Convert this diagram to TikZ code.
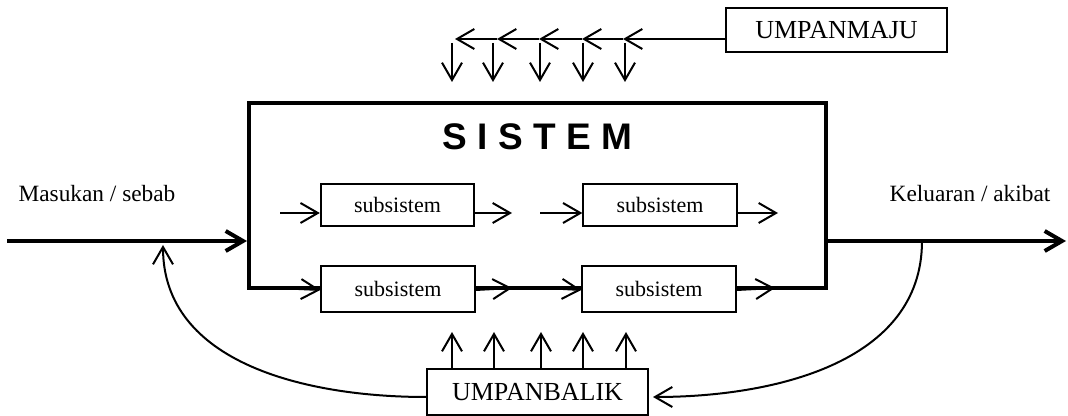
\documentclass[tikz,border=0pt]{standalone}
\usepackage{fontspec}
\setmainfont{Liberation Serif}
\newfontfamily\judulfont{Liberation Sans}
\usetikzlibrary{arrows.meta}

\begin{document}
\begin{tikzpicture}[x=0.75pt,y=-0.75pt,>={Straight Barb[length=13pt,width=15pt]},
	garis/.style={line width=1.5pt},
	tebal/.style={line width=3pt},
	kotak/.style={draw,line width=1.5pt,fill=white,inner sep=0pt},
	subkotak/.style={kotak,minimum width=115pt,font=\fontsize{16.5}{18}\selectfont},
	besar/.style={kotak,minimum width=165.75pt,font=\fontsize{19.5}{22}\selectfont},
	teks/.style={anchor=base,font=\fontsize{17.5}{20}\selectfont}]
	\useasboundingbox (0,0) rectangle (1068,416);
	% Kotak sistem
	\node[draw,tebal,inner sep=0pt,minimum width=432.75pt,minimum height=138.75pt] (sistem) at (537.5,195.5) {};
	\node[font=\judulfont\bfseries\fontsize{27.75}{30}\selectfont] (judul) at (537.5,136.5) {S I S T E M};
	\node[subkotak,minimum height=31.5pt] (s1) at (397.5,205) {subsistem};
	\node[subkotak,minimum height=31.5pt] (s2) at (660,205) {subsistem};
	\node[subkotak,minimum height=34.5pt] (s3) at (398,289) {subsistem};
	\node[subkotak,minimum height=34.5pt] (s4) at (659,289) {subsistem};
	% Panah antar subsistem
	\coordinate (a1) at (280,213);
	\coordinate (a2) at (512,213);
	\coordinate (a3) at (540,213);
	\coordinate (a4) at (778,213);
	\draw[garis,->] (a1) -- ([yshift=-6pt]s1.west);
	\draw[garis,->] ([yshift=-6pt]s1.east) -- (a2);
	\draw[garis,->] (a3) -- ([yshift=-6pt]s2.west);
	\draw[garis,->] ([yshift=-6pt]s2.east) -- (a4);
	\coordinate (b1) at (277,288);
	\coordinate (b2) at (512,288);
	\coordinate (b3) at (545,288);
	\coordinate (b4) at (775,288);
	\draw[garis,->] (b1) -- (s3.west |- sistem.south);
	\draw[garis,->] (s3.east |- sistem.south) -- (b2);
	\draw[garis,->] (b3) -- (s4.west |- sistem.south);
	\draw[garis,->] (s4.east |- sistem.south) -- (b4);
	% Masukan dan keluaran
	\coordinate (masuk) at (7,241);
	\coordinate (keluar) at (1066,241);
	\draw[tebal,->] (masuk) -- (masuk -| sistem.west);
	\draw[tebal,->] (keluar -| sistem.east) -- (keluar);
	\node[teks] (masukan) at (97,202) {Masukan / sebab};
	\node[teks] (keluaran) at (970,202) {Keluaran / akibat};
	% Umpan maju
	\node[besar,minimum height=33pt] (maju) at (836.5,30) {UMPANMAJU};
	\draw[garis,->] ([yshift=-6.75pt]maju.west) -- (623,39);
	\foreach \a/\b in {582/623,539/582,497/539,455/497}
	\draw[garis,->] (\b,39) -- (\a,39);
	\foreach \x in {452,493,540,583,625}
	\draw[garis,->] (\x,43) -- (\x,82);
	% Umpan balik
	\node[besar,minimum height=34.5pt] (balik) at (537.5,392) {UMPANBALIK};
	\foreach \x in {452,494,541,583,626}
	\draw[garis,->] (balik.north -| \x,0) -- (\x,332);
	\coordinate (cabang) at (922,241);
	\coordinate (balikmasuk) at (163,245);
	\draw[garis,->,shorten >=3pt] (cabang) to[out=-90,in=0] ([yshift=-3.75pt]balik.east);
	\draw[garis,->] ([yshift=-3.75pt]balik.west) to[out=180,in=-90] (balikmasuk);
\end{tikzpicture}
\end{document}
